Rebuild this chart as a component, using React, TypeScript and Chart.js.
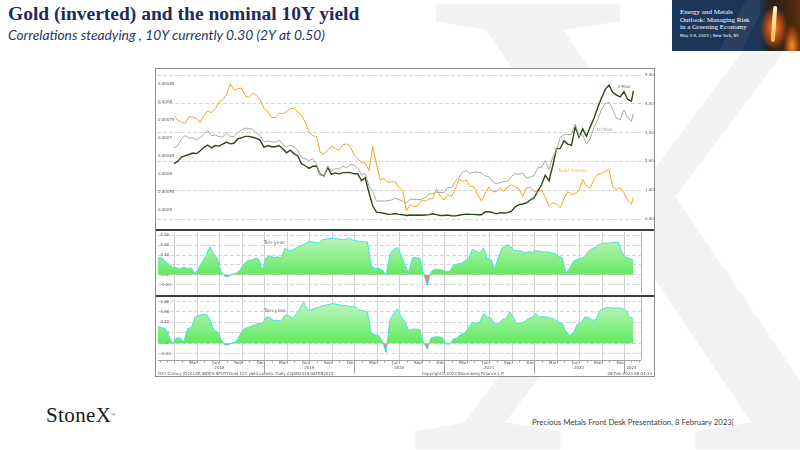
import React, { useEffect, useRef } from "react";
import { Chart, registerables } from "chart.js";

Chart.register(...registerables);

// ---------------- data (x = months since 1 Jan 2018) ----------------
const TOP_STEP = 0.5; // half-month samples, 2 Jan 2018 ...
const TOP_LAST_MONTH = 61.25; // 8 Feb 2023
const CORR_FIRST_MONTH = -2.25; // late Oct 2017
const CORR_STEP = 0.5;
const X_MIN = -2.267;
const X_MAX = 62.27;

// Gold spot, USD/oz (plotted inverted: 1 / price)
const goldUsd = [
  1310, 1335, 1345, 1350, 1318, 1318, 1325, 1345, 1310, 1290, 1298, 1280, 1250, 1240, 1220, 1176, 1200, 1195, 1192, 1225, 1230, 1212, 1222, 1240,
  1280, 1290, 1320, 1322, 1300, 1303, 1293, 1280, 1278, 1295, 1310, 1345, 1395, 1415, 1420, 1515, 1525, 1500, 1475, 1490, 1500, 1468, 1463, 1478,
  1530, 1555, 1585, 1585, 1640, 1480, 1595, 1715, 1700, 1735, 1730, 1728, 1775, 1810, 2010, 1940, 1965, 1955, 1895, 1905, 1885, 1880, 1790, 1855,
  1895, 1840, 1860, 1795, 1710, 1725, 1715, 1770, 1770, 1845, 1905, 1830, 1775, 1815, 1815, 1780, 1815, 1770, 1755, 1770, 1790, 1860, 1780, 1775,
  1810, 1820, 1800, 1860, 1960, 1925, 1935, 1975, 1880, 1815, 1845, 1830, 1805, 1710, 1765, 1780, 1710, 1670, 1665, 1648, 1635, 1770, 1795, 1780,
  1825, 1900, 1935, 1870,
];

const tenYearYield = [
  2.46, 2.55, 2.78, 2.9, 2.81, 2.82, 2.74, 2.83, 2.96, 3.07, 2.89, 2.92, 2.86, 2.85, 2.99, 2.86, 2.86, 3.0, 3.09, 3.16, 3.14, 3.11, 2.99, 2.89,
  2.69, 2.71, 2.68, 2.66, 2.75, 2.59, 2.49, 2.56, 2.5, 2.38, 2.13, 2.09, 2.03, 2.09, 1.9, 1.55, 1.47, 1.85, 1.65, 1.75, 1.73, 1.83, 1.78, 1.88,
  1.88, 1.78, 1.53, 1.58, 1.13, 0.95, 0.62, 0.63, 0.62, 0.64, 0.66, 0.72, 0.67, 0.62, 0.55, 0.7, 0.68, 0.68, 0.68, 0.74, 0.86, 0.89, 0.93, 0.92,
  0.92, 1.1, 1.09, 1.3, 1.44, 1.63, 1.68, 1.58, 1.63, 1.63, 1.6, 1.49, 1.47, 1.29, 1.22, 1.26, 1.3, 1.31, 1.48, 1.58, 1.55, 1.6, 1.43, 1.46,
  1.51, 1.78, 1.79, 2.03, 1.72, 2.15, 2.39, 2.83, 2.93, 2.93, 2.94, 3.3, 2.89, 2.93, 2.6, 2.8, 3.19, 3.45, 3.8, 4.01, 4.05, 3.8, 3.5, 3.45,
  3.79, 3.5, 3.4, 3.65,
];

const twoYearYield = [
  1.92, 2.0, 2.15, 2.2, 2.24, 2.29, 2.27, 2.37, 2.49, 2.57, 2.47, 2.55, 2.53, 2.6, 2.67, 2.61, 2.63, 2.78, 2.82, 2.87, 2.87, 2.84, 2.8, 2.73,
  2.49, 2.55, 2.51, 2.51, 2.55, 2.44, 2.3, 2.39, 2.27, 2.19, 1.92, 1.85, 1.76, 1.83, 1.84, 1.55, 1.5, 1.78, 1.55, 1.6, 1.56, 1.61, 1.61, 1.62,
  1.57, 1.57, 1.33, 1.43, 0.91, 0.45, 0.24, 0.22, 0.2, 0.16, 0.17, 0.19, 0.16, 0.15, 0.12, 0.14, 0.13, 0.14, 0.13, 0.14, 0.15, 0.18, 0.15, 0.12,
  0.12, 0.14, 0.11, 0.11, 0.13, 0.15, 0.17, 0.16, 0.16, 0.15, 0.15, 0.25, 0.25, 0.22, 0.18, 0.22, 0.21, 0.22, 0.27, 0.42, 0.5, 0.52, 0.56, 0.66,
  0.73, 0.97, 1.18, 1.52, 1.33, 1.85, 2.44, 2.45, 2.72, 2.6, 2.56, 3.2, 2.84, 3.13, 2.87, 3.2, 3.5, 3.87, 4.2, 4.5, 4.65, 4.4, 4.3, 4.24,
  4.42, 4.15, 4.1, 4.45,
];

// Rolling correlations (gold inverse vs yields)
const tenYearCorrel = [
  0.34, 0.35, 0.28, 0.2, 0.16, 0.14, 0.13, 0.15, 0.13, 0.14, 0.02, 0.14, 0.28, 0.4, 0.57, 0.42, 0.32, 0.05, -0.04, -0.03,
  0.01, 0.03, 0.1, 0.22, 0.29, 0.3, 0.33, 0.32, 0.1, 0.35, 0.39, 0.35, 0.36, 0.35, 0.54, 0.49, 0.5, 0.55, 0.58, 0.62,
  0.66, 0.67, 0.66, 0.65, 0.71, 0.73, 0.74, 0.74, 0.73, 0.72, 0.71, 0.75, 0.71, 0.69, 0.68, 0.67, 0.67, 0.2, 0.12, 0.14,
  0.1, 0.0, 0.42, 0.52, 0.55, 0.4, 0.2, 0.04, 0.34, 0.35, 0.33, 0.02, -0.22, 0.06, 0.12, 0.1, 0.1, 0.06, 0.07, 0.2,
  0.22, 0.23, 0.28, 0.32, 0.52, 0.48, 0.44, 0.55, 0.33, 0.31, 0.12, 0.37, 0.55, 0.6, 0.6, 0.5, 0.49, 0.48, 0.45, 0.47,
  0.46, 0.49, 0.48, 0.46, 0.47, 0.45, 0.44, 0.38, 0.35, 0.03, 0.13, 0.28, 0.31, 0.34, 0.36, 0.48, 0.53, 0.57, 0.62, 0.64,
  0.64, 0.65, 0.66, 0.66, 0.45, 0.36, 0.33, 0.3,
];

const twoYearCorrel = [
  0.32, 0.3, 0.28, 0.14, -0.02, 0.1, 0.1, 0.03, 0.28, 0.3, 0.5, 0.53, 0.55, 0.55, 0.45, 0.25, 0.22, 0.06, -0.04, -0.03,
  0.01, 0.03, 0.17, 0.27, 0.3, 0.32, 0.35, 0.38, 0.38, 0.5, 0.49, 0.43, 0.44, 0.42, 0.54, 0.53, 0.48, 0.55, 0.67, 0.79,
  0.63, 0.64, 0.67, 0.68, 0.72, 0.73, 0.75, 0.76, 0.74, 0.73, 0.72, 0.71, 0.7, 0.69, 0.63, 0.62, 0.6, 0.2, 0.16, 0.15,
  0.03, -0.18, 0.45, 0.56, 0.66, 0.5, 0.42, 0.24, 0.27, 0.27, 0.26, 0.01, -0.12, 0.1, 0.12, 0.12, 0.11, -0.02, -0.02, 0.08,
  0.1, 0.17, 0.19, 0.3, 0.4, 0.38, 0.4, 0.57, 0.5, 0.48, 0.36, 0.38, 0.45, 0.47, 0.6, 0.48, 0.37, 0.38, 0.42, 0.47,
  0.5, 0.57, 0.5, 0.51, 0.5, 0.48, 0.46, 0.4, 0.38, 0.22, 0.15, 0.2, 0.36, 0.38, 0.5, 0.5, 0.44, 0.45, 0.62, 0.66,
  0.69, 0.68, 0.67, 0.68, 0.66, 0.63, 0.49, 0.48,
];

// axis ticks / labels
const goldAxisTicks = [0.0005, 0.00055, 0.0006, 0.00065, 0.0007, 0.00075, 0.0008, 0.00085];
const goldAxisLabels = ["0.0005", "0.00055", "0.0006", "0.00065", "0.0007", "0.00075", "0.0008", "0.00085"];
const yieldAxisTicks = [0, 1, 2, 3, 4, 5];
const correlTicks = [-0.2, 0, 0.2, 0.4, 0.6, 0.8];
const quarterLabels = ["Mar", "Jun", "Sep", "Dec"];
const quarterLabelMonth = [2, 5, 8, 11];
const labelledYears = [2018, 2019, 2020, 2021, 2022];
const yearLabels = ["2018", "2019", "2020", "2021", "2022", "2023"];
const yearLabelMonths = [6, 18, 30, 42, 54, 61];

// ---------------- helpers ----------------
const TICK_FONT = '"DejaVu Sans", sans-serif';
const topX = goldUsd.map((_, i) => (i === goldUsd.length - 1 ? TOP_LAST_MONTH : i * TOP_STEP));
const corrX = tenYearCorrel.map((_, i) => CORR_FIRST_MONTH + i * CORR_STEP);

const monthTickValues: number[] = [];
const monthTickText: string[] = [];
labelledYears.forEach((y) =>
  quarterLabelMonth.forEach((mo, q) => {
    monthTickValues.push((y - 2018) * 12 + mo + 0.5);
    monthTickText.push(quarterLabels[q]);
  })
);

type Note = { text: string; x: number; y: number; axis: string; color: string; size: number };

function notesPlugin(notes: Note[]) {
  return {
    id: "notes",
    afterDatasetsDraw(chart: any) {
      const ctx = chart.ctx;
      notes.forEach((n) => {
        const px = chart.scales.x.getPixelForValue(n.x);
        const py = chart.scales[n.axis].getPixelForValue(n.y);
        ctx.save();
        ctx.font = `${n.size}px ${TICK_FONT}`;
        ctx.fillStyle = n.color;
        ctx.textAlign = "left";
        ctx.textBaseline = "middle";
        ctx.fillText(n.text, px, py);
        ctx.restore();
      });
    },
  };
}

function timeGridPlugin(withAxis: boolean) {
  return {
    id: "timeGrid",
    beforeDatasetsDraw(chart: any) {
      const { ctx, chartArea: a } = chart;
      const xs = chart.scales.x;
      ctx.save();
      ctx.strokeStyle = "#d2d2d2";
      ctx.lineWidth = 1;
      for (let m = 0; m <= 60; m += 3) {
        const px = Math.round(xs.getPixelForValue(m)) + 0.5;
        ctx.beginPath();
        ctx.moveTo(px, a.top);
        ctx.lineTo(px, a.bottom);
        ctx.stroke();
      }
      ctx.strokeStyle = "#b8b8b8";
      ctx.beginPath();
      ctx.moveTo(Math.round(a.right) + 0.5, a.top);
      ctx.lineTo(Math.round(a.right) + 0.5, a.bottom);
      ctx.stroke();
      ctx.restore();
    },
    afterDraw(chart: any) {
      if (!withAxis) return;
      const { ctx, chartArea: a } = chart;
      const xs = chart.scales.x;
      const yb = Math.round(a.bottom) + 0.5;
      ctx.save();
      ctx.strokeStyle = "#a0a0a0";
      ctx.lineWidth = 1;
      ctx.beginPath();
      ctx.moveTo(a.left, yb);
      ctx.lineTo(a.right, yb);
      ctx.stroke();
      for (let m = -2; m <= 62; m++) {
        const px = Math.round(xs.getPixelForValue(m)) + 0.5;
        if (px > a.right) continue;
        const len = m % 12 === 0 && m > 0 ? 13 : m % 3 === 0 ? 3 : 2;
        ctx.beginPath();
        ctx.moveTo(px, yb);
        ctx.lineTo(px, yb + len);
        ctx.stroke();
      }
      // footer line of the Bloomberg chart
      const fy = chart.height - 3.5;
      ctx.font = `4px ${TICK_FONT}`;
      ctx.fillStyle = "#555";
      ctx.textBaseline = "middle";
      ctx.textAlign = "left";
      ctx.fillText("DXY Curncy (DOLLAR INDEX SPOT) Gold 10Y yield correla  Daily 02JAN2018-08FEB2023", 1, fy);
      ctx.textAlign = "center";
      ctx.fillText("Copyright\u00a9 2023 Bloomberg Finance L.P.", 306, fy);
      ctx.textAlign = "right";
      ctx.fillText("08-Feb-2023 08:04:14", chart.width - 2, fy);
      ctx.restore();
    },
  };
}

const tickFont = { size: 4, family: TICK_FONT };

// keep the plot area exactly where the layout puts it (no label overhang padding)
function fixSize(dim: "width" | "height", size: number) {
  return (s: any) => {
    s[dim] = size;
    s.paddingTop = 0;
    s.paddingBottom = 0;
    s.paddingLeft = 0;
    s.paddingRight = 0;
  };
}

function baseOptions(extra: any) {
  return {
    responsive: false,
    maintainAspectRatio: false,
    animation: false,
    events: [],
    plugins: { legend: { display: false }, tooltip: { enabled: false } },
    ...extra,
  };
}

function buildTop(canvas: HTMLCanvasElement) {
  return new Chart(canvas, {
    type: "line",
    data: {
      datasets: [
        {
          label: "Gold Inverse",
          data: topX.map((x, i) => ({ x, y: 1 / goldUsd[i] })),
          yAxisID: "yL",
          borderColor: "#f4a61e",
          borderWidth: 1,
          pointRadius: 0,
          tension: 0,
        },
        {
          label: "10-Year",
          data: topX.map((x, i) => ({ x, y: tenYearYield[i] })),
          yAxisID: "yR",
          borderColor: "#a9a9a9",
          borderWidth: 1,
          pointRadius: 0,
          tension: 0,
        },
        {
          label: "2-Year",
          data: topX.map((x, i) => ({ x, y: twoYearYield[i] })),
          yAxisID: "yR",
          borderColor: "#2c4719",
          borderWidth: 1.4,
          pointRadius: 0,
          tension: 0,
        },
      ],
    } as any,
    options: baseOptions({
      layout: { padding: 0 },
      scales: {
        x: { type: "linear", min: X_MIN, max: X_MAX, display: false },
        yL: {
          position: "left",
          min: 0.00045,
          max: 0.000889,
          afterBuildTicks: (s: any) => {
            s.ticks = goldAxisTicks.map((v) => ({ value: v }));
          },
          afterFit: fixSize("width", 0),
          ticks: {
            autoSkip: false,
            mirror: true,
            padding: 1,
            font: tickFont,
            color: "#555",
            callback: (_v: any, i: number) => goldAxisLabels[i],
          },
          grid: { display: false, drawTicks: false },
          border: { display: false },
        },
        yR: {
          position: "right",
          min: -0.3125,
          max: 5.174,
          afterBuildTicks: (s: any) => {
            s.ticks = yieldAxisTicks.map((v) => ({ value: v }));
          },
          afterFit: fixSize("width", 13),
          ticks: {
            autoSkip: false,
            padding: 4,
            font: tickFont,
            color: "#555",
            callback: (v: any) => Number(v).toFixed(2),
          },
          grid: { color: "#d6d6d6", drawTicks: false },
          border: { display: false, dash: [4, 2] },
        },
      },
    }),
    plugins: [
      notesPlugin([
        { text: "2-Year", x: 59.1, y: 4.6, axis: "yR", color: "#5d6e45", size: 4.5 },
        { text: "10-Year", x: 56.3, y: 3.09, axis: "yR", color: "#a0a0a0", size: 4.5 },
        { text: "Gold Inverse", x: 51.3, y: 1.67, axis: "yR", color: "#f3b24a", size: 4.5 },
      ]),
    ],
  } as any);
}

function buildCorrel(
  canvas: HTMLCanvasElement,
  values: number[],
  yMin: number,
  yMax: number,
  note: Note,
  withAxis: boolean
) {
  const scales: any = {
    x: withAxis
      ? {
          type: "linear",
          position: "bottom",
          min: X_MIN,
          max: X_MAX,
          afterBuildTicks: (s: any) => {
            s.ticks = monthTickValues.map((v) => ({ value: v }));
          },
          afterFit: fixSize("height", 6),
          ticks: {
            autoSkip: false,
            maxRotation: 0,
            padding: 1,
            font: tickFont,
            color: "#555",
            callback: (_v: any, i: number) => monthTickText[i],
          },
          grid: { display: false, drawTicks: false },
          border: { display: false },
        }
      : { type: "linear", min: X_MIN, max: X_MAX, display: false },
    y: {
      position: "left",
      min: yMin,
      max: yMax,
      afterBuildTicks: (s: any) => {
        s.ticks = correlTicks.map((v) => ({ value: v }));
      },
      afterFit: fixSize("width", 0),
      ticks: {
        autoSkip: false,
        mirror: true,
        padding: 3,
        font: tickFont,
        color: "#555",
        callback: (v: any) => Number(v).toFixed(2),
      },
      grid: { color: "#d6d6d6", drawTicks: false },
      border: { display: false, dash: [4, 2] },
    },
  };
  if (withAxis) {
    scales.x2 = {
      type: "linear",
      position: "bottom",
      min: X_MIN,
      max: X_MAX,
      afterBuildTicks: (s: any) => {
        s.ticks = yearLabelMonths.map((v) => ({ value: v }));
      },
      afterFit: fixSize("height", 6),
      ticks: {
        autoSkip: false,
        maxRotation: 0,
        padding: 0,
        font: tickFont,
        color: "#555",
        callback: (_v: any, i: number) => yearLabels[i],
      },
      grid: { display: false, drawTicks: false },
      border: { display: false },
    };
  }
  const chart = new Chart(canvas, {
    type: "line",
    data: {
      datasets: [
        {
          data: corrX.map((x, i) => ({ x, y: values[i] })),
          xAxisID: "x",
          yAxisID: "y",
          borderColor: "#44e4e0",
          borderWidth: 1,
          pointRadius: 0,
          tension: 0,
          fill: { target: "origin", above: "#80ee80", below: "#f27f7f" },
        },
      ],
    } as any,
    options: baseOptions({
      layout: { padding: { left: 0, right: 13, top: 0, bottom: withAxis ? 5 : 0 } },
      scales,
    }),
    plugins: [timeGridPlugin(withAxis), notesPlugin([note])],
  } as any);
  // green gradient, lighter toward the top, built from the chart's own y scale
  const ys = chart.scales.y;
  const g = chart.ctx.createLinearGradient(0, ys.getPixelForValue(0.85), 0, ys.getPixelForValue(0));
  g.addColorStop(0, "#c6f7c6");
  g.addColorStop(1, "#62ea62");
  (chart.data.datasets[0] as any).fill = { target: "origin", above: g, below: "#f27f7f" };
  chart.update();
  return chart;
}

function ChartBox(props: {
  left: number;
  top: number;
  width: number;
  height: number;
  build: (c: HTMLCanvasElement) => Chart;
}) {
  const ref = useRef<HTMLCanvasElement>(null);
  useEffect(() => {
    const c = props.build(ref.current as HTMLCanvasElement);
    return () => c.destroy();
  }, []);
  return (
    <canvas
      ref={ref}
      width={props.width}
      height={props.height}
      style={{ position: "absolute", left: props.left, top: props.top, width: props.width, height: props.height }}
    />
  );
}

export default function App() {
  return (
    <div
      style={{
        position: "fixed",
        left: 0,
        top: 0,
        width: 800,
        height: 450,
        background: "#ffffff",
        overflow: "hidden",
      }}
    >
      {/* StoneX watermark */}
      <svg width={800} height={450} style={{ position: "absolute", left: 0, top: 0 }}>
        <text x={400} y={449} fontFamily='"Liberation Serif", serif' fontSize={680} fill="#f1f2f4">
          X
        </text>
      </svg>

      {/* title */}
      <div
        style={{
          position: "absolute",
          left: 8,
          top: 4,
          font: 'bold 19.5px "Liberation Serif", serif',
          lineHeight: "20px",
          color: "#1f2b5b",
          whiteSpace: "nowrap",
        }}
      >
        Gold (inverted) and the nominal 10Y yield
      </div>
      <div
        style={{
          position: "absolute",
          left: 8,
          top: 28,
          font: 'italic 13.8px Lato, sans-serif',
          lineHeight: "14px",
          color: "#1f3864",
          whiteSpace: "nowrap",
        }}
      >
        Correlations steadying , 10Y currently 0.30 (2Y at 0.50)
      </div>

      {/* event banner */}
      <div
        style={{
          position: "absolute",
          left: 672,
          top: 0,
          width: 128,
          height: 51,
          background: "#1c3558",
          overflow: "hidden",
        }}
      >
        <div
          style={{
            position: "absolute",
            left: 58,
            top: -10,
            width: 22,
            height: 80,
            background: "rgba(255,255,255,0.06)",
            transform: "skewX(-28deg)",
          }}
        />
        <div
          style={{
            position: "absolute",
            left: 88,
            top: 0,
            width: 40,
            height: 51,
            background:
              "radial-gradient(ellipse 14px 22px at 35% 55%, rgba(255,150,40,0.95) 0%, rgba(200,80,20,0.85) 50%, rgba(60,30,20,0) 100%), linear-gradient(90deg, rgba(28,53,88,1) 0%, #2a2018 25%, #3a2414 60%, #5a2e10 100%)",
          }}
        />
        <div
          style={{
            position: "absolute",
            left: 100,
            top: 6,
            width: 4,
            height: 36,
            borderRadius: 2,
            background: "linear-gradient(180deg, #fff7d0 0%, #ffe38a 50%, #ffb040 100%)",
            transform: "rotate(4deg)",
          }}
        />
        <div
          style={{
            position: "absolute",
            left: 112,
            top: 26,
            width: 16,
            height: 25,
            background: "radial-gradient(ellipse at 50% 80%, rgba(255,160,40,0.9) 0%, rgba(220,90,20,0.6) 45%, rgba(0,0,0,0) 75%)",
          }}
        />
        <div
          style={{
            position: "absolute",
            left: 8,
            top: 9,
            font: '7px "Liberation Serif", serif',
            lineHeight: "7.6px",
            color: "#ffffff",
            whiteSpace: "nowrap",
          }}
        >
          Energy and Metals
          <br />
          Outlook: Managing Risk
          <br />
          in a Greening Economy
        </div>
        <div
          style={{
            position: "absolute",
            left: 8,
            top: 33,
            font: '4px "DejaVu Sans", sans-serif',
            color: "#ffffff",
            whiteSpace: "nowrap",
          }}
        >
          May 3-5, 2023 | New York, NY
        </div>
      </div>

      {/* Bloomberg chart frame */}
      <div
        style={{
          position: "absolute",
          left: 155,
          top: 68,
          width: 498,
          height: 307,
          border: "1.5px solid #8c8c8c",
          background: "#ffffff",
        }}
      />
      <ChartBox left={157} top={70} width={497} height={158} build={buildTop} />
      <div style={{ position: "absolute", left: 156, top: 228.5, width: 498, height: 2, background: "#3c3c3c" }} />
      <ChartBox
        left={157}
        top={231}
        width={497}
        height={63}
        build={(c) =>
          buildCorrel(
            c,
            tenYearCorrel,
            -0.38,
            0.88,
            { text: "Ten-year", x: 11.9, y: 0.66, axis: "y", color: "#777", size: 5 },
            false
          )
        }
      />
      <div style={{ position: "absolute", left: 156, top: 294.5, width: 498, height: 2, background: "#3c3c3c" }} />
      <ChartBox
        left={157}
        top={297}
        width={497}
        height={80}
        build={(c) =>
          buildCorrel(
            c,
            twoYearCorrel,
            -0.324,
            0.876,
            { text: "Two-year", x: 11.9, y: 0.63, axis: "y", color: "#777", size: 5 },
            true
          )
        }
      />

      {/* slide footer */}
      <div
        style={{
          position: "absolute",
          left: 46,
          top: 404,
          font: '21px "Liberation Serif", serif',
          lineHeight: "22px",
          color: "#1a1a1a",
          whiteSpace: "nowrap",
          letterSpacing: 0.4,
        }}
      >
        StoneX<span style={{ fontSize: 5, verticalAlign: "top" }}>®</span>
      </div>
      <div
        style={{
          position: "absolute",
          left: 532,
          top: 418,
          font: '7.8px Lato, sans-serif',
          lineHeight: "9px",
          color: "#404040",
          whiteSpace: "nowrap",
        }}
      >
        Precious Metals Front Desk Presentation, 8 February 2023|
      </div>
    </div>
  );
}
